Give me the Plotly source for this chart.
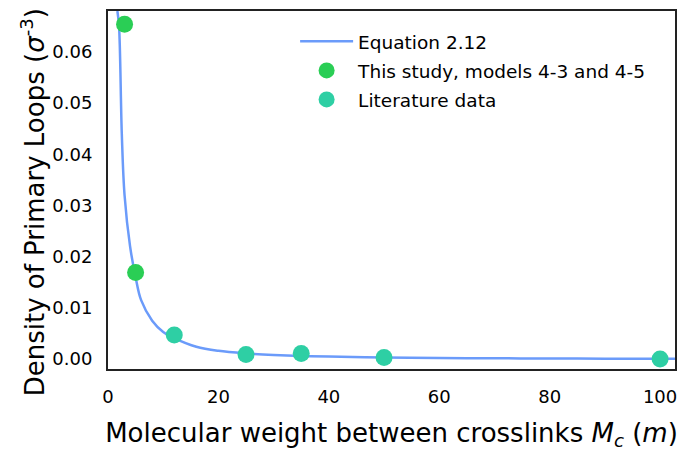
import plotly.graph_objects as go

# Equation 2.12 curve
curve_x = [1.7, 2.0, 2.5, 3.0, 4.0, 5.0, 6.0, 8.0, 10.0, 12.0, 16.0, 20.0, 25.0,
           30.0, 35.0, 40.0, 50.0, 60.0, 70.0, 80.0, 90.0, 100.0, 103.0]
curve_y = [0.0680, 0.0650, 0.0440, 0.0320, 0.0220, 0.0160, 0.0115, 0.0075, 0.0053,
           0.0041, 0.0024, 0.0016, 0.0011, 0.0008, 0.0006, 0.0005, 0.0003, 0.0002,
           0.00015, 0.0001, 0.00007, 0.00005, 0.00004]

# This study, models 4-3 and 4-5
study_x = [3, 5]
study_y = [0.0654, 0.0169]

# Literature data
lit_x = [12, 25, 35, 50, 100]
lit_y = [0.0047, 0.0009, 0.0011, 0.0003, 0.0000]

x_ticks = [0, 20, 40, 60, 80, 100]
y_ticks = [0.00, 0.01, 0.02, 0.03, 0.04, 0.05, 0.06]

FONT = "DejaVu Sans"

fig = go.Figure()
fig.add_trace(go.Scatter(x=curve_x, y=curve_y, mode="lines", name="Equation 2.12",
                         legendgroup="a",
                         line=dict(color="#6b9bfa", width=2.5, shape="spline")))
fig.add_trace(go.Scatter(x=study_x, y=study_y, mode="markers",
                         name="This study, models 4-3 and 4-5", legendgroup="b",
                         marker=dict(color="#2ace55", size=17)))
fig.add_trace(go.Scatter(x=lit_x, y=lit_y, mode="markers", name="Literature data",
                         legendgroup="c",
                         marker=dict(color="#2ecfa4", size=17)))

fig.update_layout(
    width=680, height=451,
    margin=dict(l=108, r=3, t=11, b=82),
    paper_bgcolor="white", plot_bgcolor="white",
    font=dict(family=FONT, color="black", size=18),
    showlegend=True,
    legend=dict(x=0.33, y=0.967, xanchor="left", yanchor="top",
                bgcolor="rgba(0,0,0,0)", font=dict(size=18.5, family=FONT),
                itemwidth=53, tracegroupgap=2),
    annotations=[dict(
        text="Density of Primary Loops (<i>σ</i><sup>-3</sup>)",
        xref="paper", yref="paper", x=-0.132, y=0.466,
        xanchor="center", yanchor="middle", textangle=-90, showarrow=False,
        font=dict(size=26, family=FONT, color="black"),
    )],
)
fig.update_xaxes(
    range=[0, 102.7], tickvals=x_ticks, ticktext=[str(v) for v in x_ticks],
    showgrid=False, zeroline=False, showline=True, linecolor="#222", linewidth=2,
    mirror=True, ticks="outside", ticklen=10, tickcolor="rgba(0,0,0,0)",
    tickfont=dict(size=18, family=FONT),
    title=dict(text="Molecular weight between crosslinks <i>M<sub>c</sub></i> (<i>m</i>)",
               font=dict(size=26, family=FONT), standoff=23),
)
fig.update_yaxes(
    range=[-0.00195, 0.068], tickvals=y_ticks, ticktext=[f"{v:.2f}" for v in y_ticks],
    showgrid=False, zeroline=False, showline=True, linecolor="#222", linewidth=2,
    mirror=True, ticks="outside", ticklen=10, tickcolor="rgba(0,0,0,0)",
    tickfont=dict(size=18, family=FONT),
)

fig.write_html("out.html")
